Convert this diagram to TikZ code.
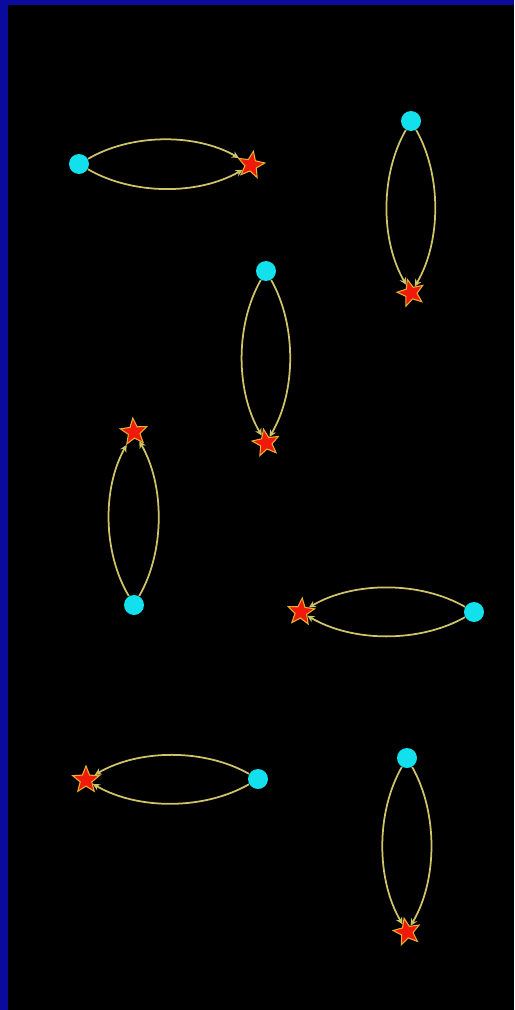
\documentclass[tikz,border=0pt]{standalone}
\usepackage{tikz}
\usetikzlibrary{arrows.meta, shapes.geometric}
\definecolor{frameblue}{HTML}{0A0A9C}
\definecolor{dotcyan}{HTML}{12E0EC}
\definecolor{starred}{HTML}{F01A0A}
\definecolor{linkyellow}{HTML}{CFC46A}
\definecolor{starrim}{HTML}{E8B030}

\begin{document}
\begin{tikzpicture}[
    x=0.02cm, y=-0.02cm,
    >={Stealth[length=4pt, width=4pt, open]},
    dot/.style={circle, fill=dotcyan, inner sep=0pt, minimum size=0.4cm},
    redstar/.style={star, star points=5, star point ratio=2.3, fill=starred, draw=starrim, line width=0.6pt, inner sep=0pt, minimum size=0.56cm, rotate=#1},
    redstar/.default=0,
    link/.style={->, linkyellow, line width=1pt},
]
    % Background and frame
    \fill[black] (0,0) rectangle (514,1010);
    \fill[frameblue] (0,0) rectangle (8,1010);
    \fill[frameblue] (0,0) rectangle (514,5);
    \useasboundingbox (0,0) rectangle (514,1010);

    % Pairs
    \node[dot] (d1) at (79,164) {};
    \node[redstar=-10] (s1) at (251,165) {};
    \node[dot] (d2) at (411,121) {};
    \node[redstar=15] (s2) at (411,293) {};
    \node[dot] (d3) at (266,271) {};
    \node[redstar=10] (s3) at (266,443) {};
    \node[dot] (d4) at (134,605) {};
    \node[redstar=5] (s4) at (134,432) {};
    \node[dot] (d5) at (474,612) {};
    \node[redstar=-5] (s5) at (301,612) {};
    \node[dot] (d6) at (258,779) {};
    \node[redstar=0] (s6) at (86,780) {};
    \node[dot] (d7) at (407,758) {};
    \node[redstar=12] (s7) at (407,932) {};

    % Double links, both arrows into the star
    \foreach \n in {1,...,7}{
        \draw[link] (d\n) to[bend left=30, looseness=0.85] (s\n);
        \draw[link] (d\n) to[bend right=30, looseness=0.85] (s\n);
    }
\end{tikzpicture}
\end{document}
